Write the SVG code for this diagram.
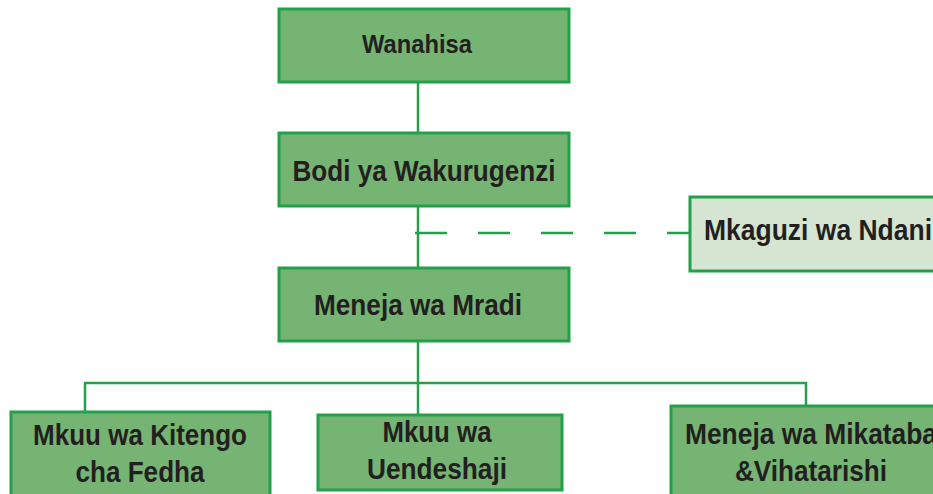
<svg xmlns="http://www.w3.org/2000/svg" width="933" height="494" viewBox="0 0 933 494">
<style>
.box{fill:#76b474;stroke:#22a04a;stroke-width:3}
.light{fill:#d5e5d1;stroke:#22a04a;stroke-width:3}
.t{font-family:"Liberation Sans Narrow","Liberation Sans",Arial,sans-serif;font-weight:bold;fill:#231f20;text-anchor:middle}
.c{fill:none;stroke:#22a04a;stroke-width:2.5}
</style>
<rect width="933" height="494" fill="#ffffff"/>
<g id="connectors">
<line class="c" x1="418" y1="82" x2="418" y2="132"/>
<line class="c" x1="418" y1="206" x2="418" y2="268"/>
<line class="c" x1="415" y1="233" x2="690" y2="233" stroke-dasharray="32 31"/>
<line class="c" x1="418" y1="342" x2="418" y2="414"/>
<polyline class="c" points="85,411 85,383 806,383 806,406"/>
</g>
<g id="n-wanahisa">
<rect class="box" x="279" y="9" width="290" height="73"/>
<text class="t" x="417" y="53" font-size="26" textLength="110" lengthAdjust="spacingAndGlyphs">Wanahisa</text>
</g>
<g id="n-bodi">
<rect class="box" x="279" y="133" width="290" height="73"/>
<text class="t" x="424" y="181" font-size="29" textLength="263" lengthAdjust="spacingAndGlyphs">Bodi ya Wakurugenzi</text>
</g>
<g id="n-mkaguzi">
<rect class="light" x="690" y="197" width="260" height="74"/>
<text class="t" x="818" y="240" font-size="29" textLength="228" lengthAdjust="spacingAndGlyphs">Mkaguzi wa Ndani</text>
</g>
<g id="n-meneja">
<rect class="box" x="279" y="268" width="290" height="73"/>
<text class="t" x="418" y="315" font-size="30" textLength="208" lengthAdjust="spacingAndGlyphs">Meneja wa Mradi</text>
</g>
<g id="n-fedha">
<rect class="box" x="11" y="412" width="259" height="84"/>
<text class="t" x="140" y="445" font-size="30" textLength="214" lengthAdjust="spacingAndGlyphs">Mkuu wa Kitengo</text>
<text class="t" x="140" y="482" font-size="30" textLength="129" lengthAdjust="spacingAndGlyphs">cha Fedha</text>
</g>
<g id="n-uendeshaji">
<rect class="box" x="318" y="415" width="244" height="75"/>
<text class="t" x="437" y="442" font-size="30" textLength="109" lengthAdjust="spacingAndGlyphs">Mkuu wa</text>
<text class="t" x="437" y="479" font-size="30" textLength="140" lengthAdjust="spacingAndGlyphs">Uendeshaji</text>
</g>
<g id="n-mikataba">
<rect class="box" x="671" y="406" width="280" height="92"/>
<text class="t" x="811" y="444" font-size="30" textLength="252" lengthAdjust="spacingAndGlyphs">Meneja wa Mikataba</text>
<text class="t" x="811" y="481" font-size="30" textLength="152" lengthAdjust="spacingAndGlyphs">&amp;Vihatarishi</text>
</g>
</svg>
